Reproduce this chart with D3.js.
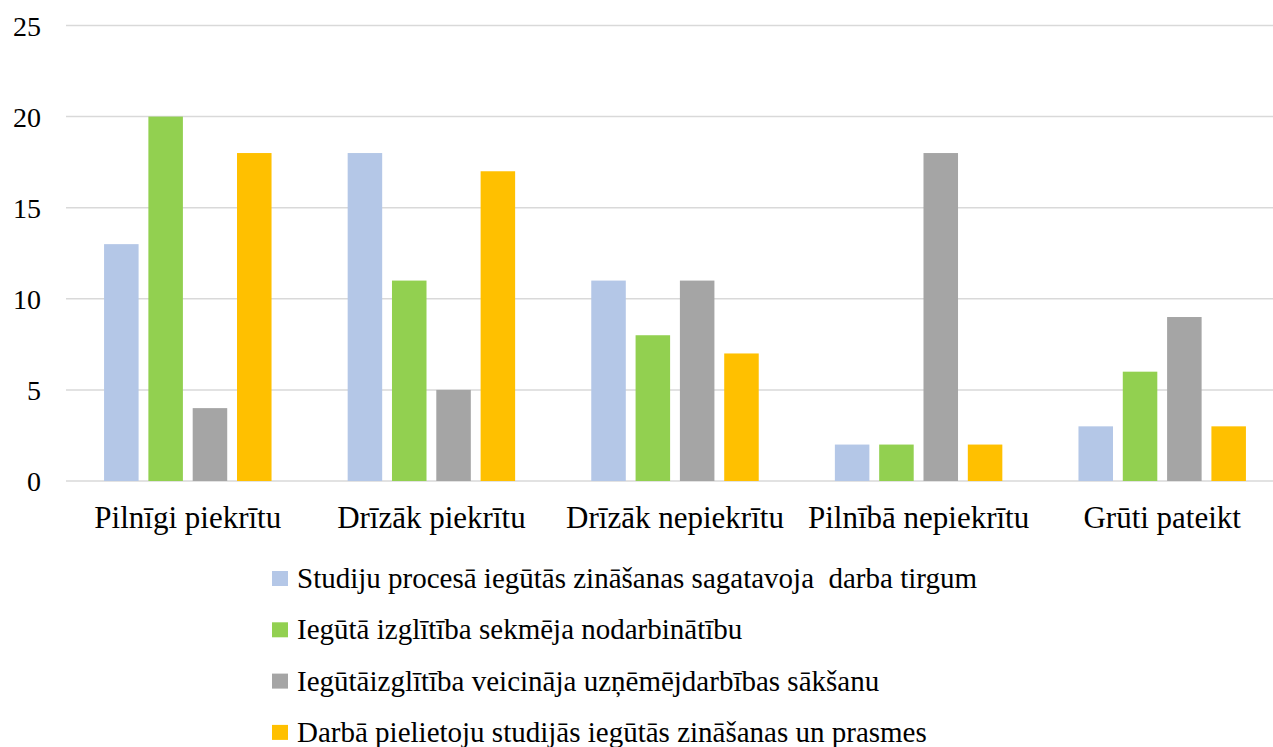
<!DOCTYPE html>
<html>
<head>
<meta charset="utf-8">
<script src="https://cdn.jsdelivr.net/npm/d3@7"></script>
<style>
  body { margin: 0; background: #fff; }
</style>
</head>
<body>
<svg id="chart" width="1273" height="747"></svg>
<script>
// data
const categories = ['Pilnīgi piekrītu', 'Drīzāk piekrītu', 'Drīzāk nepiekrītu', 'Pilnībā nepiekrītu', 'Grūti pateikt'];
const seriesNames = [
    'Studiju procesā iegūtās zināšanas sagatavoja  darba tirgum',
    'Iegūtā izglītība sekmēja nodarbinātību',
    'Iegūtāizglītība veicināja uzņēmējdarbības sākšanu',
    'Darbā pielietoju studijās iegūtās zināšanas un prasmes'
];
const studijuValues = [13, 18, 11, 2, 3];
const sekmejaValues = [20, 11, 8, 2, 6];
const veicinajaValues = [4, 5, 11, 18, 9];
const darbaValues = [18, 17, 7, 2, 3];
const yTicks = [0, 5, 10, 15, 20, 25];
const colors = ['#B4C7E7', '#92D050', '#A5A5A5', '#FFC000'];

const allValues = [studijuValues, sekmejaValues, veicinajaValues, darbaValues];
const table = categories.map((c, i) => ({
    category: c,
    values: seriesNames.map((s, j) => ({ series: s, value: allValues[j][i] }))
}));

const svg = d3.select('#chart');
const margin = { top: 25.5, left: 66, right: -11 };
const plotBottom = 481;

const x0 = d3.scaleBand()
    .domain(categories)
    .range([margin.left, 1273 - margin.right]);

const x1 = d3.scaleBand()
    .domain(seriesNames)
    .range([0, x0.bandwidth()])
    .paddingInner(0.221)
    .paddingOuter(0.859);

const y = d3.scaleLinear()
    .domain([0, 25])
    .range([plotBottom, margin.top]);

// gridlines
svg.selectAll('line.grid')
    .data(yTicks)
    .enter().append('line')
    .attr('class', 'grid')
    .attr('x1', margin.left)
    .attr('x2', 1273)
    .attr('y1', d => y(d))
    .attr('y2', d => y(d))
    .attr('stroke', '#D9D9D9')
    .attr('stroke-width', 1.5);

// y tick labels, straight on the svg
svg.selectAll('text.ytick')
    .data(yTicks)
    .enter().append('text')
    .attr('class', 'ytick')
    .attr('x', 41)
    .attr('y', d => y(d) + 10)
    .attr('text-anchor', 'end')
    .attr('font-family', 'Liberation Serif')
    .attr('font-size', 28)
    .text(d => d);

// bars
table.forEach(g => {
    svg.selectAll(null)
        .data(g.values)
        .enter().append('rect')
        .attr('x', d => x0(g.category) + x1(d.series))
        .attr('y', d => y(d.value))
        .attr('width', x1.bandwidth())
        .attr('height', d => plotBottom - y(d.value))
        .attr('fill', (d, i) => colors[i]);
});

// category labels
svg.selectAll('text.xtick')
    .data(categories)
    .enter().append('text')
    .attr('class', 'xtick')
    .attr('x', d => x0(d) + x0.bandwidth() / 2)
    .attr('y', plotBottom + 47)
    .attr('text-anchor', 'middle')
    .attr('font-family', 'Liberation Serif')
    .attr('font-size', 31)
    .text(d => d);

// legend
svg.selectAll('rect.key')
    .data(seriesNames)
    .enter().append('rect')
    .attr('class', 'key')
    .attr('x', 272)
    .attr('y', (d, i) => 571 + i * 51.3)
    .attr('width', 16)
    .attr('height', 15)
    .attr('fill', (d, i) => colors[i]);

svg.selectAll('text.key')
    .data(seriesNames)
    .enter().append('text')
    .attr('class', 'key')
    .attr('x', 297)
    .attr('y', (d, i) => 588 + i * 51.3)
    .attr('font-family', 'Liberation Serif')
    .attr('font-size', 29)
    .style('white-space', 'pre')
    .text(d => d);
</script>
</body>
</html>
